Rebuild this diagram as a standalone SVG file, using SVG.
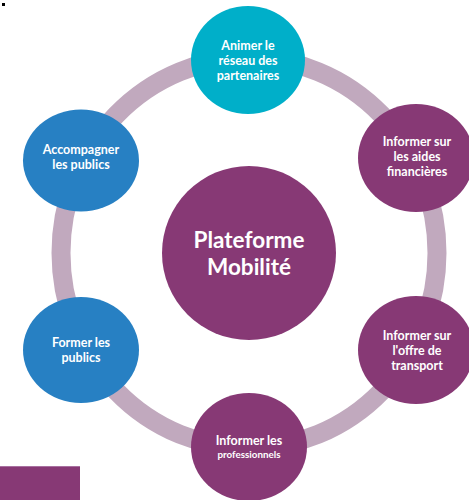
<svg xmlns="http://www.w3.org/2000/svg" width="469" height="500" viewBox="0 0 469 500">
<style>
.t{font-family:Lato,"Liberation Sans",sans-serif;font-weight:bold;fill:#ffffff;text-anchor:middle;font-size:12.5px}
.teal{fill:#00AFC9}
.blue{fill:#2780C3}
.purple{fill:#873975}
</style>
<rect width="469" height="500" fill="#ffffff"/>
<rect x="2" y="3" width="3" height="3" fill="#000000"/>
<g id="connectors">
<ellipse cx="249" cy="253" rx="188" ry="195" fill="none" stroke="#C1A9BE" stroke-width="19"/>
</g>
<g id="center">
<ellipse class="purple" cx="249" cy="253" rx="87" ry="87"/>
<text class="t" x="249" y="248" style="font-size:22.5px">Plateforme</text>
<text class="t" x="249" y="275" style="font-size:22.5px">Mobilité</text>
</g>
<g id="n-animer">
<ellipse class="teal" cx="248" cy="60" rx="57" ry="54"/>
<text class="t" x="248" y="50">Animer le</text>
<text class="t" x="248" y="65">réseau des</text>
<text class="t" x="248" y="80">partenaires</text>
</g>
<g id="n-aides">
<ellipse class="purple" cx="416" cy="158" rx="58" ry="54"/>
<text class="t" x="417" y="146">Informer sur</text>
<text class="t" x="417" y="161">les aides</text>
<text class="t" x="417" y="176">financières</text>
</g>
<g id="n-transport">
<ellipse class="purple" cx="416" cy="350" rx="58" ry="54"/>
<text class="t" x="417" y="339.5">Informer sur</text>
<text class="t" x="417" y="354.5">l'offre de</text>
<text class="t" x="417" y="369.5">transport</text>
</g>
<g id="n-pros">
<ellipse class="purple" cx="249" cy="447" rx="58" ry="54"/>
<text class="t" x="249" y="444.5">Informer les</text>
<text class="t" x="249" y="457.5" style="font-size:9.8px">professionnels</text>
</g>
<g id="n-former">
<ellipse class="blue" cx="81" cy="350" rx="58" ry="53"/>
<text class="t" x="81" y="346.5">Former les</text>
<text class="t" x="81" y="361.5">publics</text>
</g>
<g id="n-accompagner">
<ellipse class="blue" cx="81" cy="160.5" rx="58" ry="51"/>
<text class="t" x="81" y="153.5">Accompagner</text>
<text class="t" x="81" y="168.5">les publics</text>
</g>
<g id="corner">
<rect x="0" y="466" width="80" height="34" fill="#873975"/>
<rect x="0" y="466" width="80" height="1" fill="#A870A0"/>
</g>
</svg>
